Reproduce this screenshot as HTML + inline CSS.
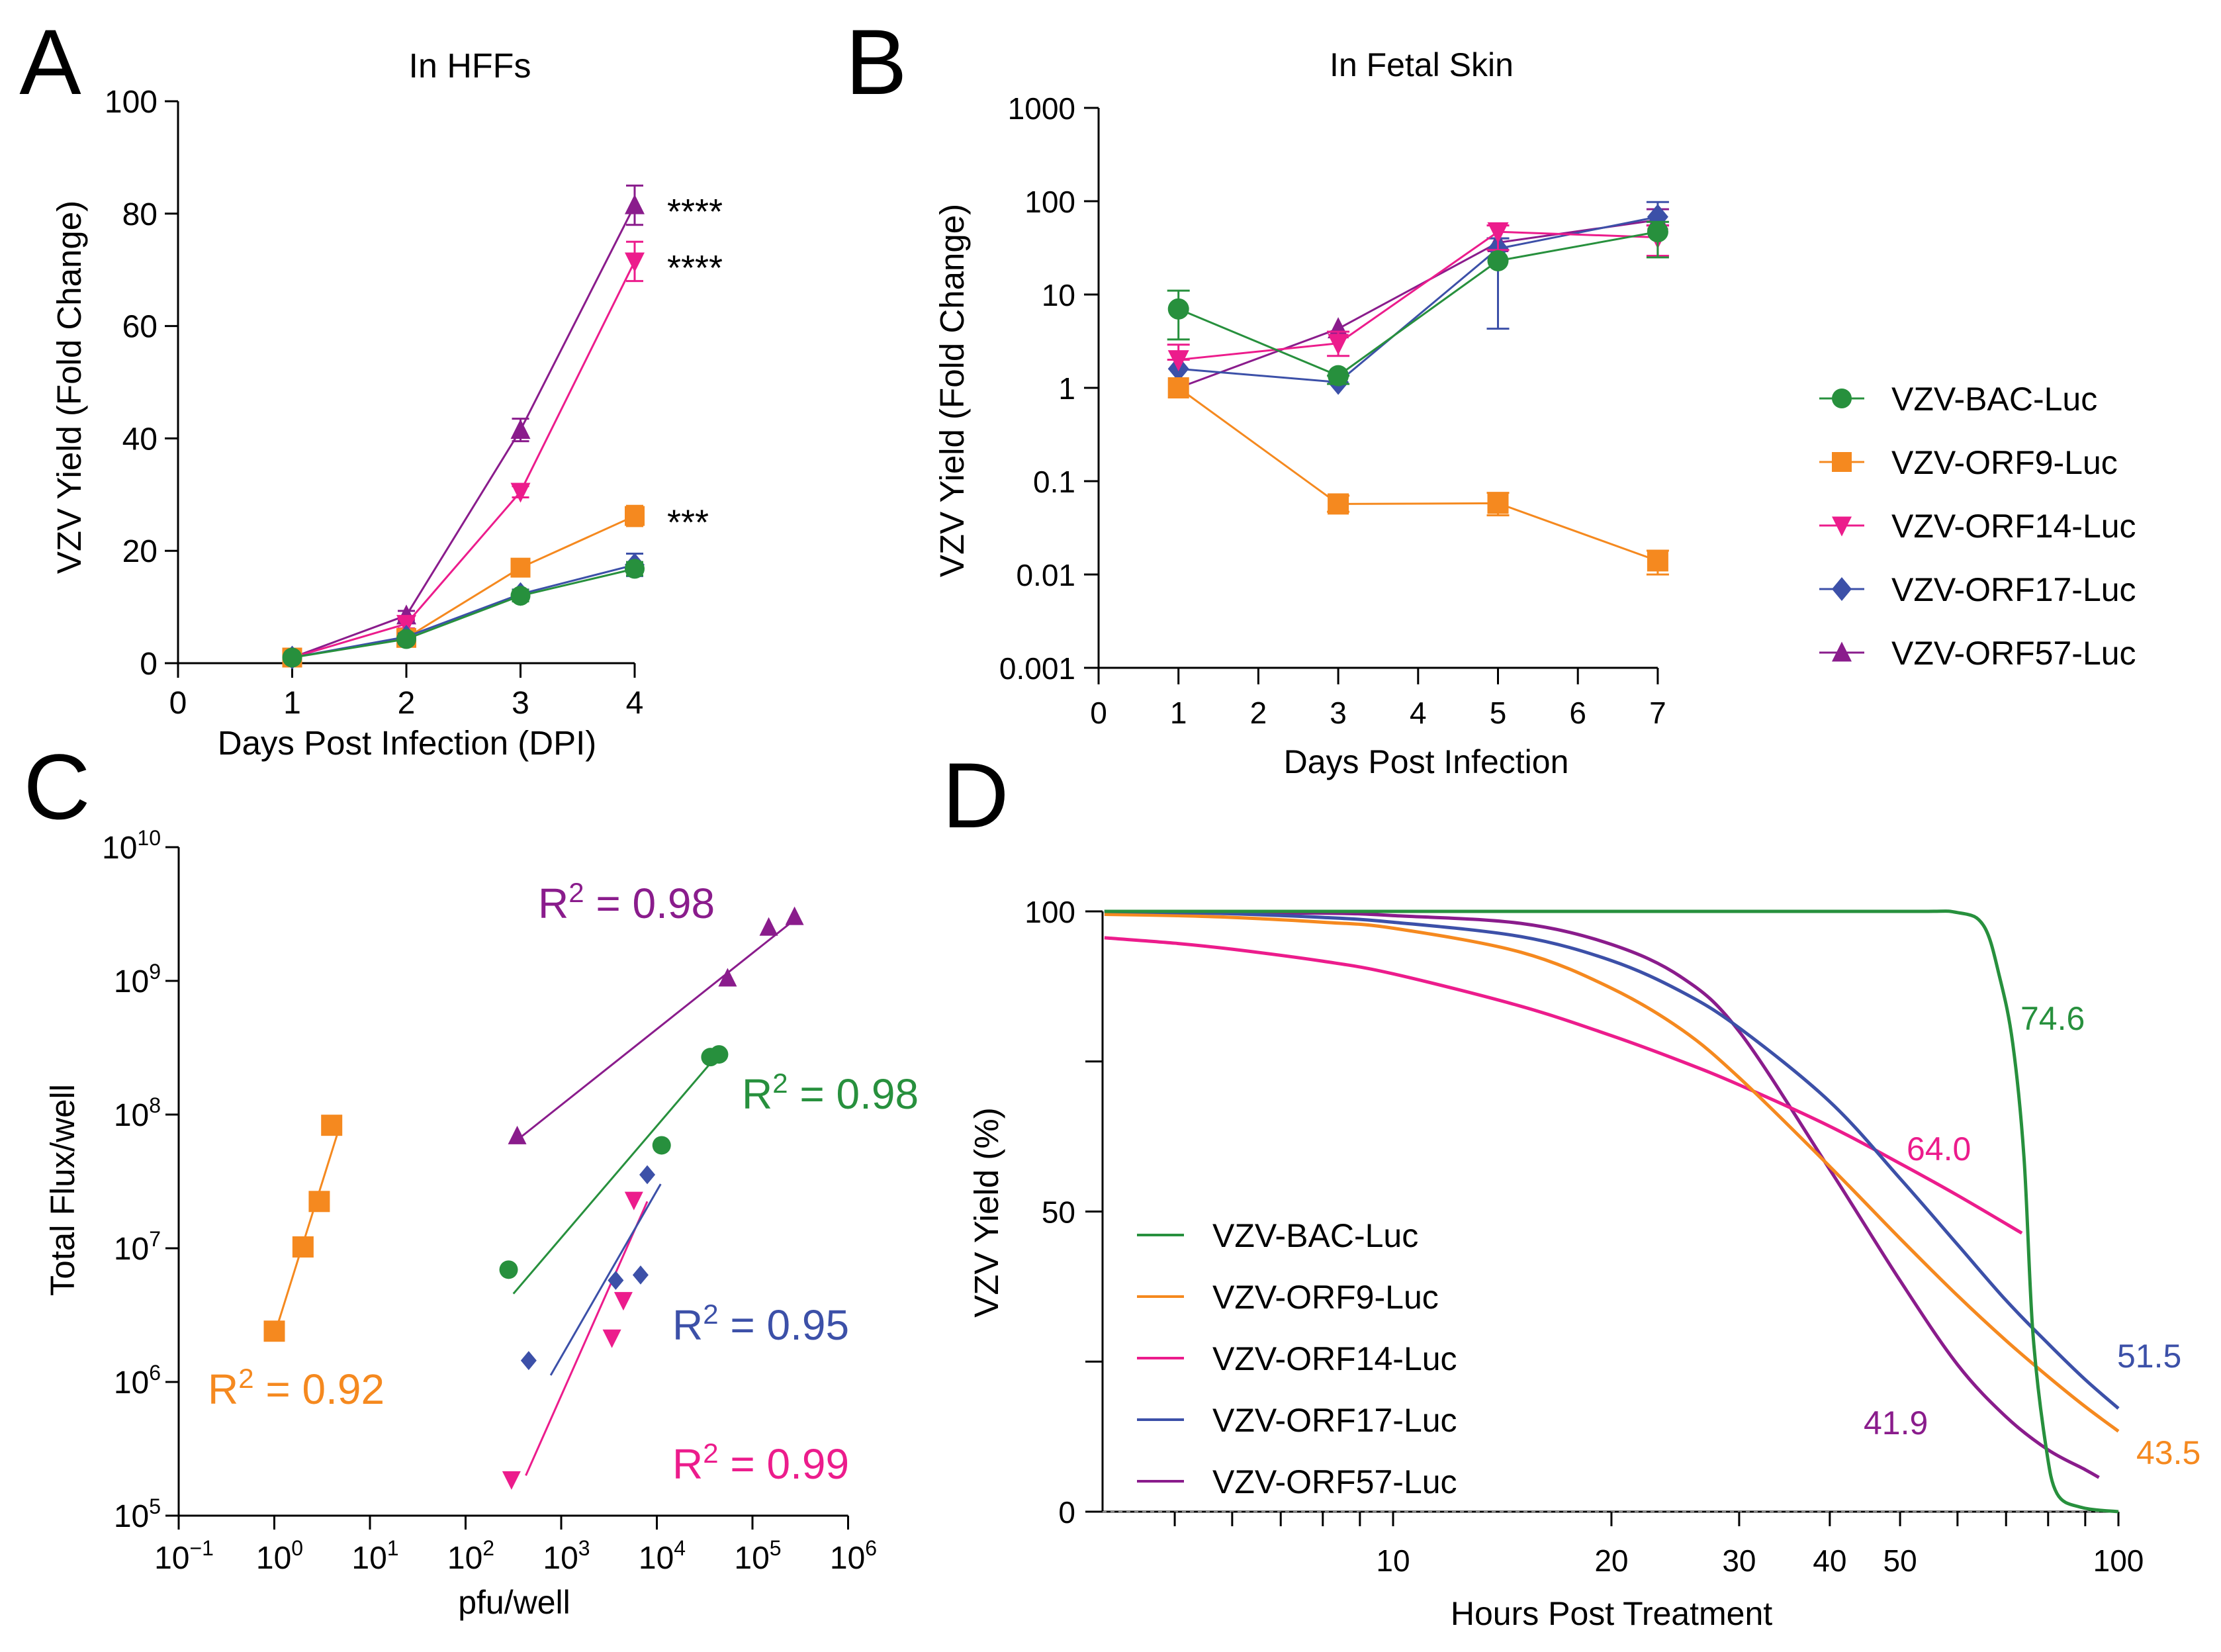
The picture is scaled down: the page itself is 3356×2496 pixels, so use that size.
<!DOCTYPE html>
<html><head><meta charset="utf-8"><style>
html,body{margin:0;padding:0;background:#fff;}
svg{display:block;font-family:"Liberation Sans",Arial,sans-serif;}
</style></head><body>
<svg id="fig" width="3356" height="2496" viewBox="0 0 3356 2496" xmlns="http://www.w3.org/2000/svg"></svg>
<script>
// ---------- DATA ----------
var seriesNames = ["VZV-BAC-Luc","VZV-ORF9-Luc","VZV-ORF14-Luc","VZV-ORF17-Luc","VZV-ORF57-Luc"];
var seriesKeys = ["bac","orf9","orf14","orf17","orf57"];
// Panel A
var aDays = [1,2,3,4];
var aBac = [1,4.3,12,16.8];
var aOrf9 = [1,4.5,17,26.2];
var aOrf14 = [1,7,30.5,71.5];
var aOrf17 = [1,4.7,12.3,17.5];
var aOrf57 = [1,8.5,41.5,81.5];
var aErrBac = [0.5,0.8,1,1.2];
var aErrOrf9 = [0.5,0.8,0.8,1.8];
var aErrOrf14 = [0.5,0.8,1,3.5];
var aErrOrf17 = [0.5,0.6,0.8,2];
var aErrOrf57 = [0.5,0.8,2,3.5];
var aStars = ["****","****","***"];
var aStarVals = [81.5,71.5,26.2];
var aYTicks = [0,20,40,60,80,100];
var aXTicks = [0,1,2,3,4];
// Panel B
var bDays = [1,3,5,7];
var bBac = [7,1.35,23,47];
var bOrf9 = [1,0.057,0.058,0.014];
var bOrf14 = [2,3,47,41];
var bOrf17 = [1.6,1.15,31,68];
var bOrf57 = [1.0,4.3,36,63];
var bLoBac = [3.3,1.1,23,25], bHiBac = [11,1.35,23,60];
var bLoOrf9 = [1,0.047,0.043,0.01], bHiOrf9 = [1,0.07,0.075,0.018];
var bLoOrf14 = [2,2.2,30,26], bHiOrf14 = [2.9,4,55,55];
var bLoOrf17 = [1.6,1.15,4.3,55], bHiOrf17 = [1.6,1.15,40,98];
var bLoOrf57 = [1,4.3,30,55], bHiOrf57 = [1,4.3,40,82];
var bYTicks = [1000,100,10,1,0.1,0.01,0.001];
var bYLabels = ["1000","100","10","1","0.1","0.01","0.001"];
var bXTicks = [0,1,2,3,4,5,6,7];
// Panel C (log10 values)
var cOrf9X = [0,0.30,0.47,0.60], cOrf9Y = [6.38,7.01,7.35,7.92];
var cOrf57X = [2.54,4.74,5.17,5.44], cOrf57Y = [7.84,9.02,9.40,9.48];
var cBacX = [2.45,4.05,4.56,4.65], cBacY = [6.84,7.77,8.43,8.45];
var cOrf17X = [2.66,3.57,3.83,3.90], cOrf17Y = [6.16,6.76,6.80,7.55];
var cOrf14X = [2.48,3.53,3.65,3.76], cOrf14Y = [5.27,6.33,6.61,7.36];
var cFitOrf9 = [0.04,6.44,0.67,7.88];
var cFitOrf57 = [2.54,7.81,5.41,9.44];
var cFitBac = [2.50,6.66,4.58,8.40];
var cFitOrf17 = [2.89,6.05,4.04,7.48];
var cFitOrf14 = [2.63,5.30,3.90,7.35];
var cR2 = ["0.92","0.98","0.99","0.95","0.98"];
var cXTicks = [-1,0,1,2,3,4,5,6];
var cYTicks = [5,6,7,8,9,10];
// Panel D
var dHoursBac = [4,20,50,60,65.2,68.6,71.5,74.1,76.2,79.3,82.3,89,100];
var dBac = [100,100,100,99.8,97.6,89,78,59,30,11.5,3,0.7,0];
var dHoursStd = [4,5,6,8,10,15,20,25,30,40,50,60,70,80,90,100];
var dOrf9 = [99.5,99.3,99,98.2,97.2,93.2,87.2,80.3,72.3,57.5,45.5,36,28.5,22.5,17.5,13.4];
var dOrf17 = [100,99.8,99.6,99,98.2,95.8,91.8,86.6,80.6,68.3,55.5,44.5,35.2,28,22,17.2];
var dHoursOrf57 = [4,8,10,15,20,25,30,40,50,60,70,80,90,94];
var dOrf57 = [100,99.7,99.3,98,94.5,89,80,57,38.5,24.5,15.8,10.3,7,5.7];
var dHoursOrf14 = [4,5,6,8,10,15,20,25,30,40,50,60,73.6];
var dOrf14 = [95.6,94.7,93.7,91.7,89.6,84.2,79.3,75,71.1,64.2,58,52.7,46.4];
var dEC50 = ["74.6","43.5","64.0","51.5","41.9"];
var dYTicks = [0,25,50,75,100];
var dYLabels = ["0","","50","","100"];
var dXTicks = [5,6,7,8,9,10,20,30,40,50,60,70,80,90,100];
var dXLabels = ["","","","","","10","20","30","40","50","","","","","100"];

// ---------- HELPERS ----------
var colors = ["#27903d","#f5891f","#ec1c8c","#3c50a8","#8a1c8c"];
var NS = "http://www.w3.org/2000/svg";
var svg = document.getElementById("fig");
function mk(tag, attrs, parent){
  var e = document.createElementNS(NS, tag);
  for (var k in attrs) e.setAttribute(k, attrs[k]);
  (parent || svg).appendChild(e);
  return e;
}
function txt(s, x, y, size, anchor, fill, parent){
  var t = mk("text", {x:x, y:y, "font-size":size, "text-anchor":anchor||"middle", fill:fill||"#000"}, parent);
  t.textContent = s;
  return t;
}
function marker(kind, x, y, r, color, parent){
  var e;
  if (kind === 0) e = mk("circle", {cx:x, cy:y, r:r, fill:color}, parent);
  else if (kind === 1) e = mk("rect", {x:x-r, y:y-r, width:2*r, height:2*r, fill:color}, parent);
  else if (kind === 2) e = mk("polygon", {points:(x-r)+","+(y-r*0.9)+" "+(x+r)+","+(y-r*0.9)+" "+x+","+(y+r*1.1), fill:color}, parent);
  else if (kind === 3) e = mk("polygon", {points:x+","+(y-r*1.2)+" "+(x+r)+","+y+" "+x+","+(y+r*1.2)+" "+(x-r)+","+y, fill:color}, parent);
  else e = mk("polygon", {points:(x-r)+","+(y+r*0.9)+" "+(x+r)+","+(y+r*0.9)+" "+x+","+(y-r*1.1), fill:color}, parent);
  return e;
}
function line(x1,y1,x2,y2,color,w,parent){
  return mk("line",{x1:x1,y1:y1,x2:x2,y2:y2,stroke:color,"stroke-width":w},parent);
}
function lg(v){ return Math.log(v)/Math.LN10; }

// ---------- PANEL A ----------
var gA = mk("g",{});


function xA(d){ return 269 + d*172.5; }
function yA(v){ return 1002 - v*8.49; }
var la = txt("A", 76, 142, 140, "middle", "#000", gA);


var ta = txt("In HFFs", 710, 117, 52, "middle", "#000", gA);


line(269,153,269,1002,"#000",3,gA);
line(249,1002,xA(4),1002,"#000",3,gA);
aYTicks.forEach(function(v){
  line(249,yA(v),269,yA(v),"#000",3,gA);
  var t = txt(String(v), 238, yA(v)+17, 48, "end", "#000", gA);
  
  
});
aXTicks.forEach(function(d){
  line(xA(d),1002,xA(d),1024,"#000",3,gA);
  var t = txt(String(d), xA(d), 1078, 48, "middle", "#000", gA);
  
  
});
var axa = txt("Days Post Infection (DPI)", 615, 1140, 51, "middle", "#000", gA);


var aya = txt("VZV Yield (Fold Change)", 0, 0, 51, "middle", "#000", gA);
aya.setAttribute('transform', 'translate(122,585) rotate(-90)');


var aSeries = [aBac,aOrf9,aOrf14,aOrf17,aOrf57];
var aErrs = [aErrBac,aErrOrf9,aErrOrf14,aErrOrf17,aErrOrf57];
var aOrder = [4,2,1,3,0];
aOrder.forEach(function(s){
  var g = mk("g",{},gA);
  
  
  var pts = aDays.map(function(d,i){ return xA(d)+","+yA(aSeries[s][i]); }).join(" ");
  mk("polyline",{points:pts,fill:"none",stroke:colors[s],"stroke-width":3},g);
  aDays.forEach(function(d,i){
    var v = aSeries[s][i], e = aErrs[s][i];
    line(xA(d),yA(v+e),xA(d),yA(v-e),colors[s],3,g);
    line(xA(d)-13,yA(v+e),xA(d)+13,yA(v+e),colors[s],3,g);
    line(xA(d)-13,yA(v-e),xA(d)+13,yA(v-e),colors[s],3,g);
    var m = marker([0,1,2,3,4][s], xA(d), yA(v), 15, colors[s], g);
    
    
  });
});
aStars.forEach(function(s,i){
  var t = txt(s, 1008, yA(aStarVals[i])+28, 54, "start", "#000", gA);
  
  
});

// ---------- PANEL B ----------
var gB = mk("g",{});


function xB(d){ return 1660 + d*120.7; }
function yB(v){ return 1009 - (lg(v)+3)*141; }
var lb = txt("B", 1324, 142, 140, "middle", "#000", gB);


var tb = txt("In Fetal Skin", 2148, 115, 50, "middle", "#000", gB);


line(1660,163,1660,1009,"#000",3,gB);
line(1638,1009,xB(7),1009,"#000",3,gB);
bYTicks.forEach(function(v,i){
  line(1638,yB(v),1660,yB(v),"#000",3,gB);
  var t = txt(bYLabels[i], 1625, yB(v)+17, 46, "end", "#000", gB);
  
  
});
bXTicks.forEach(function(d){
  line(xB(d),1009,xB(d),1034,"#000",3,gB);
  var t = txt(String(d), xB(d), 1093, 46, "middle", "#000", gB);
  
  
});
var axb = txt("Days Post Infection", 2155, 1168, 50, "middle", "#000", gB);


var ayb = txt("VZV Yield (Fold Change)", 0, 0, 51, "middle", "#000", gB);
ayb.setAttribute('transform', 'translate(1456,590) rotate(-90)');


var bSeries = [bBac,bOrf9,bOrf14,bOrf17,bOrf57];
var bLo = [bLoBac,bLoOrf9,bLoOrf14,bLoOrf17,bLoOrf57];
var bHi = [bHiBac,bHiOrf9,bHiOrf14,bHiOrf17,bHiOrf57];
[4,3,2,1,0].forEach(function(s){
  var g = mk("g",{},gB);
  
  
  var pts = bDays.map(function(d,i){ return xB(d)+","+yB(bSeries[s][i]); }).join(" ");
  mk("polyline",{points:pts,fill:"none",stroke:colors[s],"stroke-width":3},g);
  bDays.forEach(function(d,i){
    var lo = bLo[s][i], hi = bHi[s][i];
    if (hi !== lo){
      line(xB(d),yB(hi),xB(d),yB(lo),colors[s],3,g);
      line(xB(d)-17,yB(hi),xB(d)+17,yB(hi),colors[s],3,g);
      line(xB(d)-17,yB(lo),xB(d)+17,yB(lo),colors[s],3,g);
    }
    var m = marker(s, xB(d), yB(bSeries[s][i]), 16, colors[s], g);
    
    
  });
});
var legB = mk("g",{},gB);


seriesNames.forEach(function(n,i){
  var y = 602 + i*96;
  var g = mk("g",{},legB);
  
  
  line(2749,y,2817,y,colors[i],3,g);
  marker(i, 2783, y, 15, colors[i], g);
  txt(n, 2858, y+18, 50, "start", "#000", g);
});

// ---------- PANEL C ----------
var gC = mk("g",{});


function xC(l){ return 270 + (l+1)*144.5; }
function yC(l){ return 2290 - (l-5)*202; }
var lc = txt("C", 86, 1237, 140, "middle", "#000", gC);


line(270,yC(10),270,2290,"#000",3,gC);
line(270,2290,xC(6),2290,"#000",3,gC);
cYTicks.forEach(function(e){
  line(250,yC(e),270,yC(e),"#000",3,gC);
  var t = mk("text",{x:243,y:yC(e)+17,"font-size":48,"text-anchor":"end"},gC);
  
  
  var s1 = mk("tspan",{},t); s1.textContent = "10";
  var s2 = mk("tspan",{dy:-20,"font-size":32},t); s2.textContent = String(e);
});
cXTicks.forEach(function(e){
  line(xC(e),2290,xC(e),2311,"#000",3,gC);
  var t = mk("text",{x:xC(e)+8,y:2370,"font-size":48,"text-anchor":"middle"},gC);
  
  
  var s1 = mk("tspan",{},t); s1.textContent = "10";
  var s2 = mk("tspan",{dy:-20,"font-size":32},t); s2.textContent = e<0 ? "\u22121" : String(e);
});
var axc = txt("pfu/well", 777, 2438, 50, "middle", "#000", gC);


var ayc = txt("Total Flux/well", 0, 0, 51, "middle", "#000", gC);
ayc.setAttribute('transform', 'translate(112,1798) rotate(-90)');


var cX = [cBacX,cOrf9X,cOrf14X,cOrf17X,cOrf57X];
var cY = [cBacY,cOrf9Y,cOrf14Y,cOrf17Y,cOrf57Y];
var cFit = [cFitBac,cFitOrf9,cFitOrf14,cFitOrf17,cFitOrf57];
var cLabPos = [[1121,1675],[314,2121],[1016,2234],[1016,2024],[813,1387]];
var cR2Idx = [1,0,2,3,4];
[0,1,2,3,4].forEach(function(s){
  var g = mk("g",{},gC);
  
  
  var f = cFit[s];
  var fl = line(xC(f[0]),yC(f[1]),xC(f[2]),yC(f[3]),colors[s],3,g);
  
  
  cX[s].forEach(function(x,i){
    var m = marker(s, xC(x), yC(cY[s][i]), s===1?16:(s===3?12:14), colors[s], g);
    
    
  });
  var t = mk("text",{x:cLabPos[s][0],y:cLabPos[s][1],"font-size":64,"text-anchor":"start",fill:colors[s]},g);
  
  
  var a = mk("tspan",{},t); a.textContent = "R";
  var b = mk("tspan",{dy:-24,"font-size":42},t); b.textContent = "2";
  var c = mk("tspan",{dy:24},t); c.textContent = " = " + cR2[cR2Idx[s]];
});

// ---------- PANEL D ----------
var gD = mk("g",{});


function xD(h){ return 2105 + (lg(h)-1)*1096; }
function yD(p){ return 2284 - p*9.07; }
var ld = txt("D", 1474, 1250, 140, "middle", "#000", gD);


line(1666,1377,1666,2284,"#000",3,gD);
line(1666,2284,xD(100),2284,"#000",3,gD);
mk("line",{x1:1666,y1:2284,x2:xD(100),y2:2284,stroke:"#888","stroke-width":2,"stroke-dasharray":"6,6"},gD);
dYTicks.forEach(function(v,i){
  line(1640,yD(v),1666,yD(v),"#000",3,gD);
  if (dYLabels[i]){
    var t = txt(dYLabels[i], 1625, yD(v)+17, 46, "end", "#000", gD);
    
    
  }
});
dXTicks.forEach(function(h,i){
  line(xD(h),2284,xD(h),2306,"#000",3,gD);
  if (dXLabels[i]){
    var t = txt(dXLabels[i], xD(h), 2374, 46, "middle", "#000", gD);
    
    
  }
});
var axd = txt("Hours Post Treatment", 2435, 2455, 50, "middle", "#000", gD);


var ayd = txt("VZV Yield (%)", 0, 0, 51, "middle", "#000", gD);
ayd.setAttribute('transform', 'translate(1508,1832) rotate(-90)');


function smooth(xs, ys){
  var p = xs.map(function(x,i){ return [x, ys[i]]; });
  var d = "M" + p[0][0] + "," + p[0][1];
  for (var i=0;i<p.length-1;i++){
    var p0 = p[i-1]||p[i], p1 = p[i], p2 = p[i+1], p3 = p[i+2]||p2;
    var c1x = p1[0]+(p2[0]-p0[0])/6, c1y = p1[1]+(p2[1]-p0[1])/6;
    var c2x = p2[0]-(p3[0]-p1[0])/6, c2y = p2[1]-(p3[1]-p1[1])/6;
    d += " C"+c1x+","+c1y+" "+c2x+","+c2y+" "+p2[0]+","+p2[1];
  }
  return d;
}
var dH = [dHoursBac,dHoursStd,dHoursOrf14,dHoursStd,dHoursOrf57];
var dV = [dBac,dOrf9,dOrf14,dOrf17,dOrf57];
var dLab = [[3053,1556],[3228,2212],[2881,1753],[3199,2066],[2816,2167]];
[4,2,1,3,0].forEach(function(s){
  var p = mk("path",{d:smooth(dH[s].map(xD), dV[s].map(yD)),fill:"none",stroke:colors[s],"stroke-width":5},gD);
  
  
  var t = txt(dEC50[s], dLab[s][0], dLab[s][1], 50, "start", colors[s], gD);
  
  
});
var legD = mk("g",{},gD);


seriesNames.forEach(function(n,i){
  var y = 1866 + i*93;
  var g = mk("g",{},legD);
  
  
  line(1718,y,1789,y,colors[i],4,g);
  txt(n, 1832, y+18, 50, "start", "#000", g);
});
</script>
</body></html>
